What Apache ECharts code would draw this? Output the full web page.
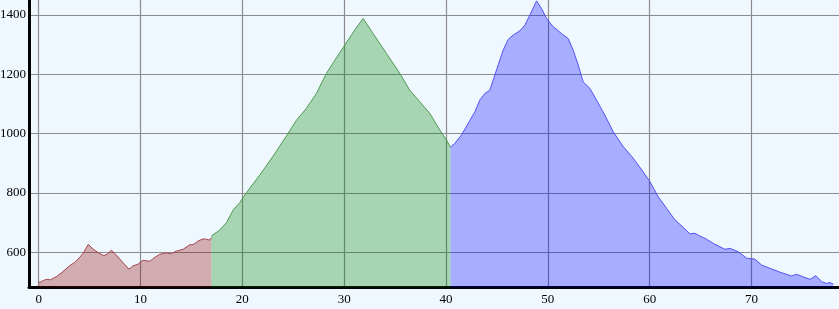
<!DOCTYPE html>
<html>
<head>
<meta charset="utf-8">
<style>
html,body{margin:0;padding:0;background:#f0f8ff;}
#c{width:839px;height:309px;}
</style>
<script src="https://cdn.jsdelivr.net/npm/echarts@6/dist/echarts.min.js"></script>
</head>
<body>
<div id="c"></div>
<script>
const redDist = [0, 0.26, 0.59, 0.91, 1.15, 1.74, 2.39, 3.05, 3.54, 4.03, 4.37, 4.88, 5.33, 5.83, 6.39, 6.72, 7.14, 7.56, 8.28, 8.87, 9.26, 9.76, 10.25, 10.74, 10.97, 11.40, 11.89, 12.54, 13.03, 13.52, 14.18, 14.83, 15.23, 15.65, 16.14, 16.48, 16.80, 16.96];
const redElev = [499, 501, 507, 509, 507, 518, 535, 555, 566, 583, 597, 627, 611, 599, 589, 593, 607, 593, 565, 543, 554, 560, 573, 570, 571, 583, 593, 598, 595, 604, 610, 625, 627, 638, 645, 644, 641, 650];

const greenDist = [16.96, 17.78, 18.44, 19.09, 19.74, 20.40, 21.71, 23.02, 24.33, 25.31, 26.29, 27.27, 28.26, 29.08, 30.06, 31.04, 31.86, 32.84, 34.15, 35.46, 36.44, 37.43, 38.41, 39.39, 40.05, 40.44];
const greenElev = [655, 675, 700, 742, 767, 801, 860, 924, 992, 1045, 1085, 1135, 1203, 1247, 1298, 1349, 1388, 1337, 1270, 1203, 1146, 1107, 1068, 1012, 978, 954];

const blueDist = [40.44, 40.86, 41.52, 42.17, 42.83, 43.32, 43.81, 44.30, 44.63, 45.12, 45.61, 46.10, 46.60, 47.25, 47.74, 48.23, 48.89, 49.38, 49.87, 50.52, 51.35, 52.00, 52.49, 52.98, 53.47, 54.13, 54.78, 55.60, 56.42, 57.40, 58.38, 59.36, 60.02, 60.84, 61.66, 62.48, 63.30, 63.95, 64.44, 64.93, 65.59, 66.24, 67.39, 67.88, 68.70, 69.52, 70.33, 70.99, 71.81, 72.79, 73.94, 74.43, 75.08, 75.74, 76.33, 76.88, 77.37, 77.70, 78.03];
const blueElev = [954, 967, 995, 1034, 1073, 1113, 1135, 1146, 1180, 1231, 1281, 1317, 1332, 1346, 1365, 1399, 1447, 1421, 1388, 1360, 1337, 1320, 1281, 1231, 1174, 1152, 1113, 1062, 1006, 956, 917, 871, 838, 787, 748, 709, 684, 662, 664, 655, 644, 630, 610, 613, 602, 580, 577, 557, 546, 533, 520, 526, 517, 509, 521, 501, 495, 498, 493];

function pairs(xs, ys){ return xs.map((x,i)=>[x, ys[i]]); }

const labelFont = {fontFamily:'Liberation Serif', fontSize:13, color:'#000', formatter:v=>String(v)};
function seg(xs, ys, line, fill){
  return {
    type:'line', data:pairs(xs, ys), showSymbol:false, symbol:'none',
    lineStyle:{color:line, width:1}, areaStyle:{color:fill, opacity:1, origin:'start'},
    itemStyle:{color:line}, animation:false, silent:true
  };
}

const chart = echarts.init(document.getElementById('c'), null, {renderer:'canvas'});
chart.setOption({
  backgroundColor:'#f0f8ff',
  animation:false,
  grid:{left:29, top:0, right:0, height:287.3, containLabel:false, outerBoundsMode:'none'},
  xAxis:{
    type:'value', min:-0.95, max:78.59, splitNumber:8,
    axisLine:{show:true, onZero:false, lineStyle:{color:'#000', width:3}},
    axisTick:{show:false},
    axisLabel:Object.assign({margin:6, showMinLabel:false, showMaxLabel:false}, labelFont),
    splitLine:{show:true, showMinLine:false, showMaxLine:false, lineStyle:{color:'#8c8c8c', width:1.2}}
  },
  yAxis:{
    type:'value', min:482, max:1450, splitNumber:5,
    axisLine:{show:true, onZero:false, lineStyle:{color:'#000', width:3}},
    axisTick:{show:false},
    axisLabel:Object.assign({margin:3, showMinLabel:false, showMaxLabel:false}, labelFont),
    splitLine:{show:true, showMinLine:false, showMaxLine:false, lineStyle:{color:'#8c8c8c', width:1.2}}
  },
  series:[
    seg(redDist, redElev, '#a5454d', 'rgba(139,0,0,0.3)'),
    seg(greenDist, greenElev, '#4f9a52', 'rgba(0,128,0,0.3)'),
    seg(blueDist, blueElev, '#5252f2', 'rgba(0,0,255,0.3)')
  ]
});
</script>
</body>
</html>
